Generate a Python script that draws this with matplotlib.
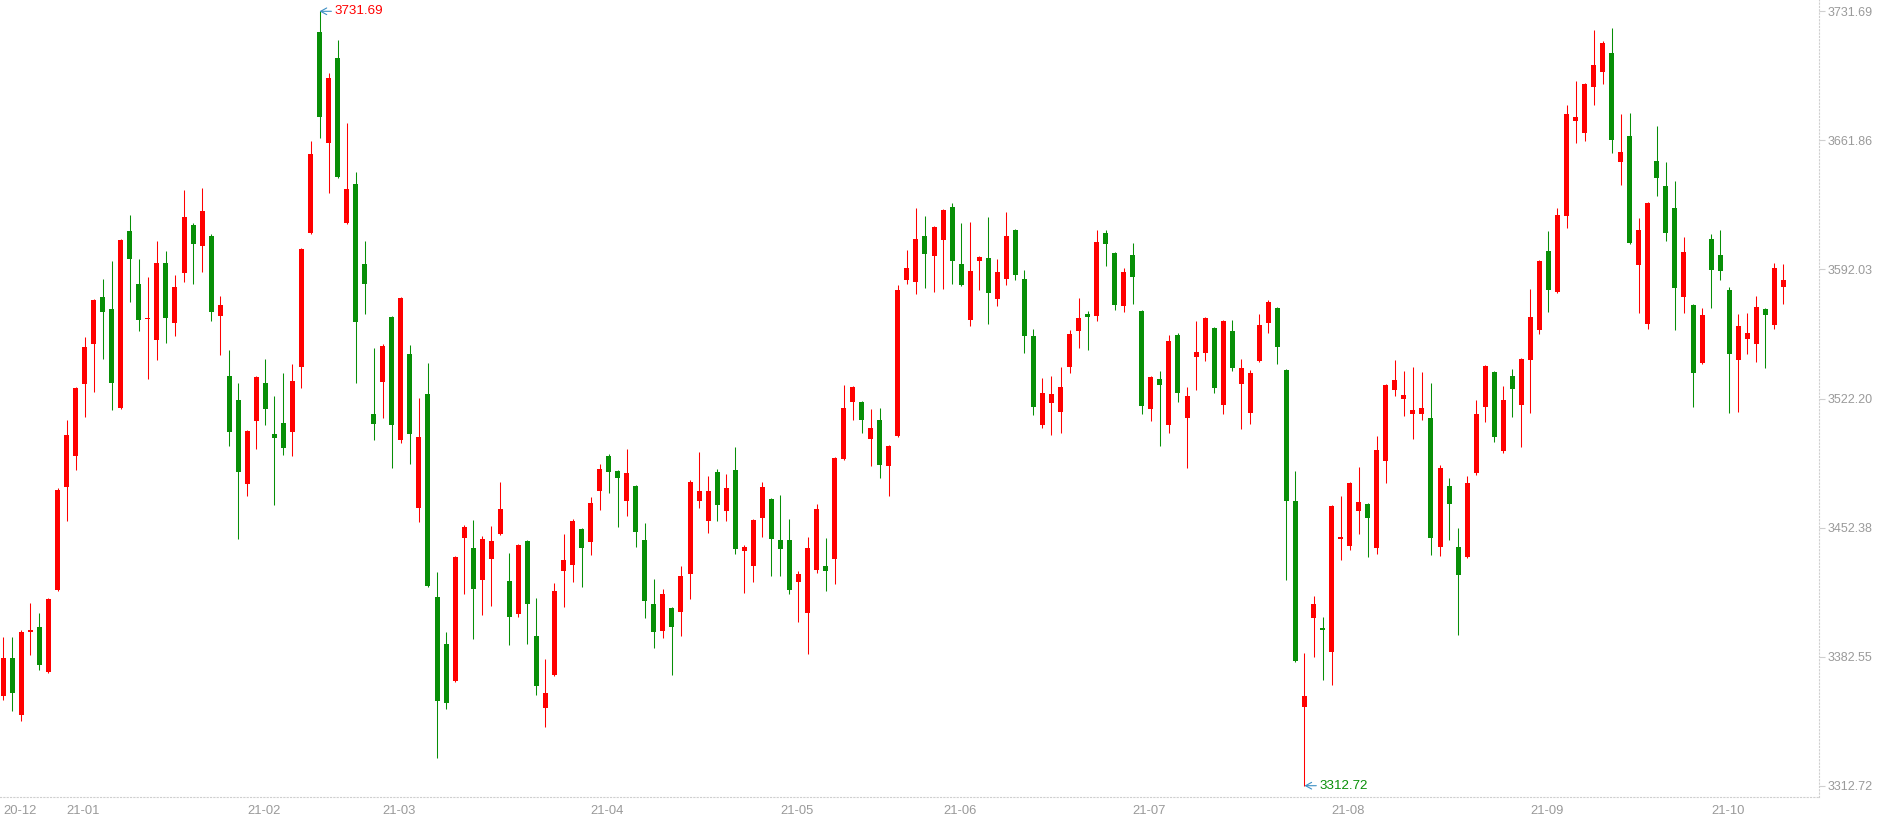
import matplotlib
matplotlib.use('Agg')
import matplotlib.pyplot as plt
import numpy as np

plt.rcParams['font.family'] = ['Liberation Sans', 'DejaVu Sans']

# Daily OHLC, 2020-12-23 .. 2021-10-20 (one entry per trading day)
opens = [3361.4, 3381.9, 3351.2, 3395.7, 3398.7, 3374.5, 3418.8, 3474.2, 3491.3, 3530.2,
         3551.8, 3577.2, 3570.7, 3517.2, 3613.0, 3584.3, 3565.3, 3553.9, 3595.6, 3563.3,
         3589.9, 3616.3, 3604.5, 3610.2, 3566.6, 3534.5, 3521.6, 3476.2, 3509.8, 3530.7,
         3503.2, 3509.1, 3504.0, 3539.1, 3611.9, 3720.6, 3660.7, 3706.5, 3616.9, 3638.3,
         3595.2, 3513.9, 3531.0, 3566.3, 3499.6, 3546.3, 3462.8, 3524.9, 3415.0, 3389.6,
         3369.2, 3446.6, 3441.5, 3423.9, 3435.2, 3448.7, 3423.6, 3405.4, 3445.3, 3393.9,
         3354.6, 3372.4, 3428.7, 3431.9, 3451.7, 3444.4, 3471.9, 3491.2, 3483.1, 3466.5,
         3475.0, 3445.8, 3411.2, 3396.2, 3409.0, 3406.5, 3427.0, 3466.5, 3455.7, 3482.6,
         3461.1, 3483.7, 3439.5, 3431.4, 3457.3, 3468.0, 3445.8, 3445.8, 3422.7, 3405.9,
         3429.2, 3431.7, 3435.2, 3489.6, 3520.1, 3520.5, 3500.1, 3510.7, 3485.5, 3501.7,
         3586.1, 3585.0, 3610.3, 3599.1, 3607.7, 3625.9, 3595.1, 3564.5, 3596.4, 3598.4,
         3575.8, 3586.6, 3613.5, 3587.0, 3556.2, 3507.6, 3519.5, 3514.7, 3539.0, 3558.5,
         3568.1, 3566.6, 3611.9, 3601.1, 3572.0, 3600.0, 3569.7, 3516.3, 3532.9, 3507.6,
         3556.7, 3511.4, 3544.4, 3546.6, 3560.5, 3518.5, 3558.9, 3529.8, 3514.1, 3542.3,
         3562.8, 3571.3, 3537.8, 3466.9, 3355.1, 3403.2, 3397.8, 3384.9, 3446.2, 3442.2,
         3461.1, 3465.3, 3441.1, 3488.2, 3526.6, 3521.7, 3513.6, 3513.6, 3511.8, 3441.7,
         3475.0, 3442.0, 3436.2, 3481.7, 3517.4, 3536.7, 3493.6, 3534.5, 3518.5, 3543.3,
         3559.0, 3602.1, 3579.6, 3620.7, 3672.6, 3666.1, 3690.5, 3698.6, 3709.2, 3650.4,
         3664.4, 3594.2, 3562.3, 3650.8, 3637.3, 3625.4, 3576.9, 3572.9, 3541.2, 3608.6,
         3600.0, 3581.0, 3542.8, 3554.2, 3551.5, 3570.8, 3561.7, 3582.3]
highs = [3393.1, 3393.1, 3397.0, 3411.7, 3406.3, 3414.5, 3473.8, 3510.7, 3528.5, 3555.6,
         3576.2, 3587.1, 3596.7, 3608.3, 3621.5, 3597.9, 3588.0, 3607.5, 3602.1, 3589.1,
         3635.1, 3617.0, 3636.2, 3611.0, 3577.8, 3548.5, 3530.7, 3505.3, 3534.5, 3543.4,
         3523.7, 3535.8, 3541.1, 3603.5, 3661.6, 3731.69, 3698.4, 3716.3, 3671.4, 3644.8,
         3607.6, 3549.7, 3551.8, 3566.6, 3577.0, 3551.2, 3522.6, 3541.5, 3428.5, 3396.1,
         3437.0, 3453.5, 3456.7, 3447.9, 3453.3, 3477.1, 3438.8, 3443.3, 3445.6, 3414.4,
         3381.4, 3422.4, 3449.0, 3456.8, 3452.0, 3469.1, 3486.9, 3492.3, 3483.4, 3495.0,
         3475.3, 3455.0, 3424.7, 3419.3, 3409.5, 3431.7, 3478.3, 3493.4, 3480.4, 3484.2,
         3481.5, 3496.1, 3443.1, 3456.8, 3477.2, 3468.3, 3470.1, 3457.2, 3429.0, 3447.4,
         3465.3, 3446.9, 3490.5, 3529.6, 3528.9, 3520.8, 3516.7, 3517.2, 3497.2, 3583.7,
         3602.7, 3625.4, 3621.1, 3615.4, 3624.9, 3628.1, 3617.3, 3617.8, 3599.4, 3620.5,
         3597.8, 3623.2, 3613.8, 3591.9, 3559.9, 3533.4, 3534.5, 3539.4, 3559.4, 3576.7,
         3569.7, 3613.5, 3613.5, 3601.4, 3592.9, 3606.5, 3570.0, 3534.3, 3537.2, 3556.7,
         3557.8, 3528.6, 3564.3, 3566.4, 3560.8, 3564.8, 3564.8, 3543.7, 3537.8, 3568.1,
         3575.6, 3571.6, 3538.1, 3483.1, 3384.5, 3415.5, 3404.1, 3464.5, 3469.6, 3476.8,
         3485.3, 3465.6, 3502.1, 3529.9, 3543.2, 3537.2, 3539.4, 3536.7, 3530.7, 3486.4,
         3479.3, 3452.3, 3480.4, 3521.5, 3540.2, 3537.0, 3529.1, 3538.3, 3544.0, 3581.6,
         3597.0, 3612.9, 3625.4, 3681.1, 3694.1, 3692.8, 3721.7, 3715.7, 3722.8, 3676.2,
         3676.8, 3620.0, 3628.6, 3669.8, 3650.3, 3640.0, 3609.7, 3573.2, 3571.3, 3611.3,
         3613.5, 3582.7, 3568.1, 3568.6, 3577.8, 3571.1, 3595.6, 3595.1]
lows = [3359.2, 3353.4, 3347.5, 3383.2, 3375.4, 3373.5, 3418.0, 3456.1, 3483.7, 3512.3,
        3525.8, 3543.6, 3516.1, 3516.6, 3574.6, 3558.9, 3532.8, 3543.1, 3552.0, 3555.8,
        3585.0, 3584.4, 3590.5, 3563.9, 3545.5, 3496.4, 3446.3, 3469.2, 3494.7, 3507.7,
        3464.7, 3491.8, 3491.2, 3527.7, 3611.3, 3663.0, 3633.2, 3641.5, 3616.6, 3530.8,
        3567.8, 3499.8, 3511.4, 3484.5, 3497.9, 3486.6, 3455.6, 3420.3, 3327.7, 3354.0,
        3369.0, 3416.7, 3391.9, 3405.3, 3409.8, 3448.5, 3388.6, 3403.8, 3389.2, 3361.6,
        3344.3, 3372.2, 3409.2, 3422.7, 3420.0, 3437.7, 3462.0, 3470.9, 3452.5, 3458.4,
        3441.7, 3403.2, 3387.0, 3392.4, 3372.4, 3393.5, 3413.5, 3462.8, 3449.2, 3455.7,
        3455.7, 3437.9, 3416.8, 3422.7, 3447.1, 3426.0, 3426.0, 3416.2, 3401.1, 3383.8,
        3427.6, 3417.9, 3421.6, 3489.1, 3510.4, 3503.3, 3485.5, 3479.0, 3469.2, 3501.5,
        3584.3, 3578.5, 3581.8, 3579.6, 3581.2, 3583.9, 3583.2, 3561.2, 3581.0, 3562.3,
        3572.0, 3583.4, 3586.1, 3546.6, 3513.1, 3506.5, 3502.2, 3503.3, 3535.8, 3549.3,
        3548.2, 3563.9, 3593.7, 3569.9, 3568.8, 3573.1, 3513.6, 3509.8, 3496.3, 3503.8,
        3520.1, 3484.4, 3526.6, 3542.3, 3525.0, 3513.6, 3536.9, 3505.5, 3508.2, 3542.0,
        3557.4, 3540.6, 3423.8, 3379.4, 3312.72, 3382.1, 3369.7, 3367.0, 3434.6, 3440.0,
        3448.7, 3436.2, 3437.9, 3476.3, 3523.3, 3512.5, 3500.1, 3510.4, 3437.3, 3436.8,
        3445.4, 3394.1, 3435.7, 3480.6, 3509.3, 3498.5, 3492.5, 3512.0, 3495.7, 3514.1,
        3556.9, 3568.8, 3579.3, 3614.2, 3660.2, 3661.3, 3680.8, 3692.1, 3654.8, 3637.5,
        3605.8, 3568.2, 3559.6, 3631.5, 3607.2, 3559.0, 3568.2, 3517.4, 3541.0, 3570.9,
        3586.1, 3514.1, 3514.7, 3546.4, 3541.7, 3538.5, 3559.6, 3573.6]
closes = [3381.9, 3362.7, 3396.1, 3397.0, 3378.2, 3413.8, 3472.9, 3502.7, 3528.0, 3550.2,
          3575.7, 3569.2, 3530.8, 3608.1, 3597.9, 3564.9, 3565.8, 3595.6, 3565.6, 3582.7,
          3620.5, 3606.0, 3623.7, 3568.8, 3572.8, 3504.3, 3482.3, 3504.7, 3533.6, 3516.3,
          3501.1, 3495.6, 3531.8, 3603.2, 3654.6, 3674.3, 3695.8, 3641.8, 3635.6, 3563.4,
          3584.4, 3508.3, 3550.8, 3507.6, 3576.7, 3502.8, 3501.5, 3420.5, 3358.8, 3357.4,
          3436.7, 3452.9, 3419.4, 3446.4, 3445.3, 3462.6, 3403.8, 3443.1, 3410.8, 3366.5,
          3363.0, 3418.2, 3435.0, 3456.1, 3441.1, 3465.8, 3484.2, 3482.2, 3479.0, 3482.0,
          3449.8, 3412.4, 3395.7, 3416.6, 3398.4, 3426.3, 3477.2, 3472.3, 3472.3, 3464.4,
          3473.9, 3440.6, 3442.0, 3456.6, 3474.5, 3446.0, 3440.6, 3418.4, 3427.4, 3441.5,
          3462.6, 3428.7, 3490.2, 3517.2, 3528.6, 3510.4, 3506.4, 3486.0, 3496.7, 3581.0,
          3592.9, 3608.6, 3600.2, 3615.1, 3624.3, 3596.4, 3583.4, 3591.3, 3598.9, 3579.1,
          3590.8, 3610.3, 3588.8, 3555.8, 3517.4, 3525.3, 3524.8, 3528.6, 3557.2, 3565.9,
          3566.1, 3607.0, 3605.6, 3572.6, 3590.8, 3587.7, 3517.9, 3534.0, 3529.3, 3553.4,
          3525.0, 3523.7, 3547.5, 3565.9, 3527.7, 3564.3, 3538.5, 3538.8, 3536.1, 3562.1,
          3574.5, 3549.8, 3466.5, 3380.3, 3361.4, 3411.2, 3396.9, 3464.2, 3447.4, 3476.5,
          3466.4, 3457.3, 3494.5, 3529.6, 3532.4, 3524.2, 3516.1, 3517.2, 3446.5, 3484.8,
          3464.9, 3426.5, 3476.6, 3514.0, 3539.9, 3501.2, 3521.5, 3527.1, 3543.7, 3566.4,
          3596.7, 3580.7, 3621.6, 3676.2, 3674.6, 3692.5, 3702.7, 3714.6, 3661.8, 3655.7,
          3606.1, 3613.5, 3628.1, 3641.3, 3612.0, 3581.8, 3601.6, 3535.8, 3567.5, 3591.5,
          3591.0, 3546.1, 3561.6, 3557.8, 3571.8, 3567.2, 3592.9, 3586.4]

month_labels = ['20-12', '21-01', '21-02', '21-03', '21-04', '21-05',
                '21-06', '21-07', '21-08', '21-09', '21-10']
month_start = [0, 7, 27, 42, 65, 86, 104, 125, 147, 169, 189]
price_labels = ['3312.72', '3382.55', '3452.38', '3522.20', '3592.03', '3661.86', '3731.69']

UP = '#ff0000'
DOWN = '#078f07'
GRID = '#cfcfcf'
LABEL = '#9a9a9a'
ARROW = '#3d8fc4'

W, H = 1880, 819
fig = plt.figure(figsize=(W / 100, H / 100), dpi=100)
ax = fig.add_axes([0, 22 / H, 1819 / W, 797 / H])

o = np.array(opens); h = np.array(highs); l = np.array(lows); c = np.array(closes)
x = np.arange(len(o))
cols = np.where(c >= o, UP, DOWN)

ax.vlines(x, l, h, colors=cols, linewidth=0.75, zorder=2)
body_bottom = np.minimum(o, c)
body_h = np.maximum(np.abs(c - o), 0.6)
ax.bar(x, body_h, bottom=body_bottom, width=5 / 9.036, color=cols, linewidth=0, zorder=3)

hi, lo = h.max(), l.min()
k = (hi - lo) / 774.4
ax.set_ylim(lo - (797 - 785.7) * k, hi + 11.3 * k)
ax.set_xlim(-3.3 / 9.036, (1819 - 3.3) / 9.036)

ax.yaxis.tick_right()
ax.set_yticks(np.linspace(lo, hi, 7))
ax.set_yticklabels(price_labels)
ax.tick_params(axis='y', length=4, color=GRID, labelcolor=LABEL, labelsize=9, pad=2)

ax.set_xticks(month_start)
ax.set_xticklabels(month_labels)
ax.tick_params(axis='x', length=0, labelcolor=LABEL, labelsize=9.4, pad=5.5)
for t in ax.get_xticklabels():
    t.set_horizontalalignment('left')

for s in ['top', 'left']:
    ax.spines[s].set_visible(False)
for s in ['right', 'bottom']:
    ax.spines[s].set_color(GRID)
    ax.spines[s].set_linestyle((0, (1, 2)))
    ax.spines[s].set_linewidth(0.8)

ip = int(np.argmax(h)); il = int(np.argmin(l))
arrow = dict(arrowstyle='->,head_length=0.45,head_width=0.25', color=ARROW, lw=0.8,
             shrinkA=0, shrinkB=0)
ax.annotate(f'{h[ip]:.2f}', xy=(ip, h[ip]), xytext=(10.5, 0), textcoords='offset points',
            ha='left', va='center', color=UP, fontsize=9.6, arrowprops=arrow, zorder=5)
ax.annotate(f'{l[il]:.2f}', xy=(il, l[il]), xytext=(10.5, 0), textcoords='offset points',
            ha='left', va='center', color=DOWN, fontsize=9.6, arrowprops=arrow, zorder=5)

fig.savefig('out.png', dpi=100, facecolor='white')
